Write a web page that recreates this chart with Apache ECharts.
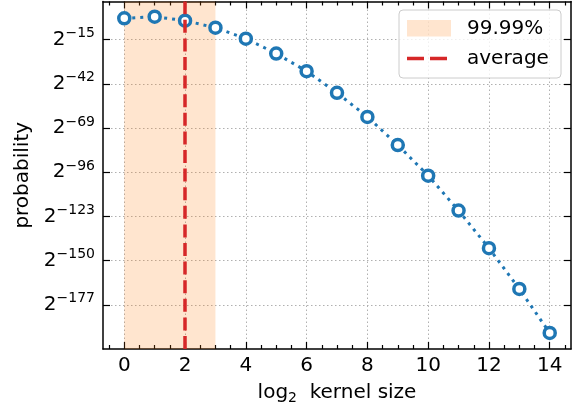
<!DOCTYPE html>
<html>
<head>
<meta charset="utf-8">
<script src="https://cdn.jsdelivr.net/npm/echarts@6/dist/echarts.min.js"></script>
<style>html,body{margin:0;padding:0;background:#fff}#c{width:581px;height:413px}</style>
</head>
<body>
<div id="c"></div>
<script>
// data: x = log2 kernel size, y = log2 probability (exponent)
const kernelLog2 = [0,1,2,3,4,5,6,7,8,9,10,11,12,13,14];
const probLog2 = [-2,-1,-3.4,-7.7,-14.4,-23.5,-34.3,-47.5,-62.2,-79.4,-98.1,-119.4,-142.4,-167.3,-194.2];
const xTicks = [0,2,4,6,8,10,12,14];
const xMinorTicks = [-0.5,0.5,1,1.5,2.5,3,3.5,4.5,5,5.5,6.5,7,7.5,8.5,9,9.5,10.5,11,11.5,12.5,13,13.5,14.5];
const yTicks = [-15,-42,-69,-96,-123,-150,-177];
const shadeRange = [0, 3];
const averageX = 2;
const legendLabels = ['99.99%', 'average'];

const FONT = 'DejaVu Sans';
const xMin = -0.7, xMax = 14.7, yMin = -204, yMax = 8.3, yInterval = 27;
const shadeColor = 'rgba(255,127,14,0.2)';
const blue = '#1f77b4', red = '#d62728';
const gridLine = {show: true, lineStyle: {color: '#b0b0b0', width: 1, type: [1.5, 2.5]}};

function xAxisDef(pos, ticks, len, showLine, showLabel, split, name) {
  return {
    type: 'value', position: pos, min: xMin, max: xMax,
    axisLine: {show: showLine, onZero: false, lineStyle: {color: '#000', width: 1.5}},
    axisTick: {show: true, inside: true, length: len, customValues: ticks, lineStyle: {color: '#000', width: 1.2}},
    axisLabel: showLabel ? {show: true, customValues: ticks, margin: 7, fontFamily: FONT, fontSize: 20, color: '#000'} : {show: false},
    splitLine: split ? gridLine : {show: false},
    name: name || '', nameLocation: 'middle', nameGap: 32,
    nameTextStyle: {fontFamily: FONT, fontSize: 20, color: '#000',
      rich: {n: {fontFamily: FONT, fontSize: 20, color: '#000'}, sub: {fontFamily: FONT, fontSize: 14, color: '#000', padding: [10,0,0,0]}}}
  };
}
function yAxisDef(pos, showLabel, split) {
  return {
    type: 'value', position: pos, min: yMin, max: yMax, interval: yInterval,
    axisLine: {show: true, onZero: false, lineStyle: {color: '#000', width: 1.5}},
    axisTick: {show: true, inside: true, length: 7, customValues: yTicks, lineStyle: {color: '#000', width: 1.2}},
    axisLabel: showLabel ? {
      show: true, customValues: yTicks, margin: 8,
      formatter: v => '{b|2}{s|\u2212' + Math.abs(Math.round(v)) + '}',
      rich: {b: {fontFamily: FONT, fontSize: 20, color: '#000'},
             s: {fontFamily: FONT, fontSize: 14, color: '#000', padding: [0,0,12,0]}}
    } : {show: false},
    splitLine: split ? gridLine : {show: false},
    name: showLabel ? 'probability' : '', nameLocation: 'middle', nameGap: 70,
    nameTextStyle: {fontFamily: FONT, fontSize: 20, color: '#000'}
  };
}

const chart = echarts.init(document.getElementById('c'), null, {renderer: 'canvas'});
const lx = 399, ly = 10;
chart.setOption({
  animation: false,
  backgroundColor: '#fff',
  grid: {left: 103, right: 10, top: 1.5, bottom: 64, containLabel: false},
  xAxis: [
    xAxisDef('bottom', xTicks, 7, true, true, true, '{n|log}{sub|2}{n|  kernel size}'),
    xAxisDef('bottom', xMinorTicks, 4, false, false, false),
    xAxisDef('top', xTicks, 7, true, false, false),
    xAxisDef('top', xMinorTicks, 4, false, false, false)
  ],
  yAxis: [yAxisDef('left', true, true), yAxisDef('right', false, false)],
  series: [
    {
      type: 'line', xAxisIndex: 0, yAxisIndex: 0, data: [], silent: true, z: 1,
      markArea: {silent: true, itemStyle: {color: shadeColor},
        data: [[{xAxis: shadeRange[0]}, {xAxis: shadeRange[1]}]]}
    },
    {
      type: 'line', xAxisIndex: 0, yAxisIndex: 0, data: [], silent: true, z: 2,
      markLine: {silent: true, symbol: 'none', label: {show: false},
        lineStyle: {color: red, width: 3.5, type: [13, 5.6]},
        data: [{xAxis: averageX}]}
    },
    {
      type: 'line', xAxisIndex: 0, yAxisIndex: 0, z: 3,
      data: kernelLog2.map((x, i) => [x, probLog2[i]]),
      symbol: 'circle', symbolSize: 11, showSymbol: true,
      itemStyle: {color: '#fff', borderColor: blue, borderWidth: 3.5},
      lineStyle: {color: blue, width: 3, type: [3, 5]}
    }
  ],
  graphic: [
    {type: 'rect', z: 100, shape: {x: lx, y: ly, width: 162, height: 68, r: 4},
     style: {fill: 'rgba(255,255,255,0.8)', stroke: '#cccccc', lineWidth: 1}},
    {type: 'rect', z: 101, shape: {x: 407, y: 20, width: 44, height: 16.5},
     style: {fill: shadeColor}},
    {type: 'line', z: 101, shape: {x1: 407, y1: 58.5, x2: 451, y2: 58.5},
     style: {stroke: red, lineWidth: 3.5, lineDash: [17, 6]}},
    {type: 'text', z: 101, x: 467, y: 29,
     style: {text: legendLabels[0], font: '20px "DejaVu Sans"', fill: '#000', textVerticalAlign: 'middle', verticalAlign: 'middle'}},
    {type: 'text', z: 101, x: 467, y: 59,
     style: {text: legendLabels[1], font: '20px "DejaVu Sans"', fill: '#000', textVerticalAlign: 'middle', verticalAlign: 'middle'}}
  ]
});
</script>
</body>
</html>
